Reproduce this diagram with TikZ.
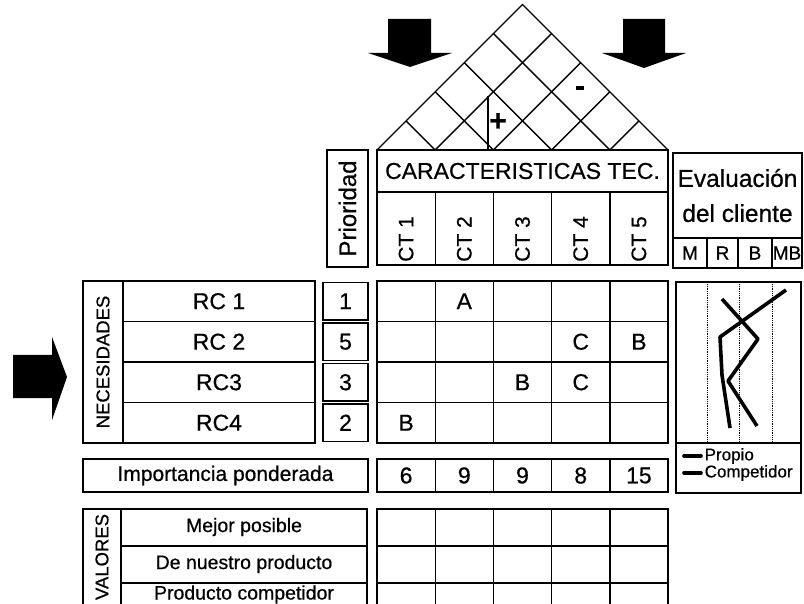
\documentclass[tikz,border=0pt]{standalone}
\usepackage{fontspec}
\setmainfont{Liberation Sans}[FakeBold=0.6]
\tikzset{
  box/.style={draw,inner sep=0pt},
  cell/.style={box,minimum width=58.2pt,minimum height=40.5pt},
  txt/.style={inner sep=0pt,font=\fontsize{23}{26}\selectfont},
  vtxt/.style={inner sep=0pt,rotate=90,font=\fontsize{#1}{#1}\selectfont},
  blockarrow/.style={fill=black},
  trend/.style={line width=3.6pt,line join=round},
}
\begin{document}
\begin{tikzpicture}[x=1pt,y=-1pt,line width=1.4pt]
\fill[white] (0,0) rectangle (804,604);
\useasboundingbox (0,0) rectangle (804,604);
\clip (0,0) rectangle (804,604);

% flechas
\fill[blockarrow] (388,19) -- (431,19) -- (431,53) -- (452,53) -- (410,67) -- (368,53) -- (388,53) -- cycle;
\fill[blockarrow] (623,19) -- (665,19) -- (665,53) -- (686,53) -- (644,68) -- (602,53) -- (623,53) -- cycle;
\fill[blockarrow] (13,355) -- (52,355) -- (52,337) -- (67,377) -- (52,420) -- (52,398) -- (13,398) -- cycle;

% techo
\draw (377,150) -- (522.5,4.5) -- (668,150);
\foreach \i in {1,...,4} {
  \draw ({377+58.2*\i},150) -- ({377+29.1*\i},{150-29.1*\i});
  \draw ({377+58.2*\i},150) -- ({668-29.1*(5-\i)},{150-29.1*(5-\i)});
}
\draw (488,96) -- (488,150);
\node[txt,font=\fontsize{30}{30}\bfseries] (mas) at (498,122) {+};
\node[txt,font=\fontsize{30}{30}\bfseries] (menos) at (580,91) {-};

% cabecera
\node[box,minimum width=41pt,minimum height=117pt] (prio) at (347.5,208.5) {};
\node[vtxt=24] (priot) at (prio) {Prioridad};
\node[box,txt,minimum width=291pt,minimum height=42pt] (cartec) at (522.5,171) {CARACTERISTICAS TEC.};
\foreach \i in {1,...,5} {
  \node[box,minimum width=58.2pt,minimum height=73pt] (ct\i) at ({377+58.2*(\i-0.5)},228.5) {};
  \node[vtxt=21] (ctt\i) at ({377+58.2*(\i-0.5)},239) {CT \i};
}
\node[box,align=center,minimum width=129pt,minimum height=85pt,font=\fontsize{24.5}{35}\selectfont] (evcab) at (737.5,195.5) {Evaluación\\del cliente};
\foreach \t/\x/\w [count=\k] in {M/690/34,R/722.5/31,B/755/34,MB/787/30}
  \node[box,minimum width=\w,minimum height=30pt,font=\fontsize{19}{19}\selectfont] (ev\k) at (\x,253) {\t};

% necesidades
\node[box,minimum width=40pt,minimum height=162pt] (necbox) at (103,362) {};
\node[vtxt=18.5] (nect) at (necbox) {NECESIDADES};
\foreach \t [count=\j] in {RC 1,RC 2,RC3,RC4}
  \node[box,txt,minimum width=192pt,minimum height=40.5pt] (rc\j) at (219,{281+40.5*(\j-0.5)}) {\t};
\foreach \n [count=\j] in {1,5,3,2}
  \node[box,txt,minimum width=45pt,minimum height=37.5pt] (p\j) at (345.5,{281+40.5*(\j-0.5)}) {\n};

% matriz de relaciones
\foreach \i in {1,...,5}
  \foreach \j in {1,...,4}
    \node[cell] (m\i\j) at ({377+58.2*(\i-0.5)},{281+40.5*(\j-0.5)}) {};
\foreach \i/\j/\t in {2/1/A,4/2/C,5/2/B,3/3/B,4/3/C,1/4/B}
  \node[txt] (r\i\j) at (m\i\j) {\t};

% importancia
\node[box,txt,font=\fontsize{21}{24}\selectfont,minimum width=285pt,minimum height=33pt] (imp) at (225.5,475.5) {Importancia ponderada};
\foreach \v [count=\i] in {6,9,9,8,15}
  \node[box,txt,minimum width=58.2pt,minimum height=33pt] (w\i) at ({377+58.2*(\i-0.5)},475.5) {\v};

% evaluacion del cliente
\node[box,minimum width=125pt,minimum height=161pt] (evg) at (738.5,362.5) {};
\foreach \x in {707,739,772}
  \draw[densely dotted,line width=0.8pt] (\x,284) -- (\x,442);
\draw[trend] (722,299) -- (758,339) -- (728,381) -- (757,426);
\draw[trend] (786,290) -- (720,337) -- (722,375) -- (730,428);
\node[box,minimum width=125pt,minimum height=50pt] (evl) at (738.5,468) {};
\draw[trend,line cap=round] (684,456) -- (701,456);
\node[anchor=west,inner sep=0pt,font=\fontsize{17}{17}\selectfont] (prop) at (704,456) {Propio};
\draw[trend,line cap=round] (684,473) -- (701,473);
\node[anchor=west,inner sep=0pt,font=\fontsize{17}{17}\selectfont] (comp) at (704,473) {Competidor};

% valores
\node[box,minimum width=38pt,minimum height=111pt] (valbox) at (102,564.5) {};
\node[vtxt=18.5] (valt) at (102,557) {VALORES};
\foreach \j in {1,2,3}
  \node[box,minimum width=246pt,minimum height=37pt] (v\j) at (244,{509+37*(\j-0.5)}) {};
\foreach \t/\y [count=\j] in {Mejor posible/527,De nuestro producto/564,Producto competidor/594.5}
  \node[inner sep=0pt,font=\fontsize{19.5}{22}\selectfont] (vt\j) at (244,\y) {\t};
\foreach \i in {1,...,5}
  \foreach \j in {1,...,3}
    \node[box,minimum width=58.2pt,minimum height=37pt] (vm\i\j) at ({377+58.2*(\i-0.5)},{509+37*(\j-0.5)}) {};
\end{tikzpicture}
\end{document}
